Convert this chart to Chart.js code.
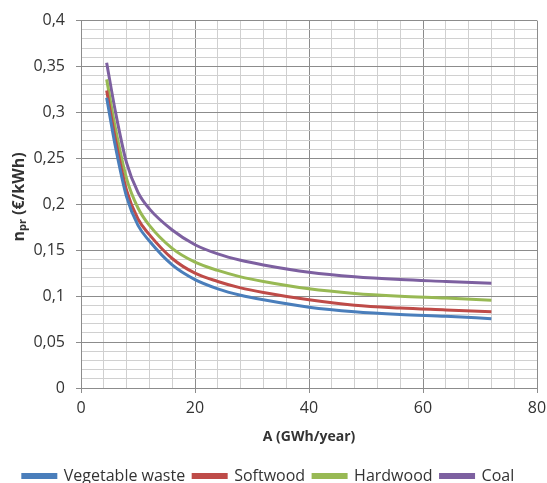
<!DOCTYPE html>
<html>
<head>
<meta charset="utf-8">
<script src="https://cdn.jsdelivr.net/npm/chart.js@4.4.0/dist/chart.umd.min.js"></script>
<style>
  html, body { margin: 0; padding: 0; background: #fff; }
  #wrap { width: 547px; height: 483px; position: relative; }
</style>
</head>
<body>
<div id="wrap"><canvas id="chart"></canvas></div>
<script>
// --- DATA ---
const xValues = [4.5, 6, 8, 10, 12, 16, 20, 24, 28, 32, 40, 48, 56, 64, 72];
const vegetableWaste = [0.316, 0.264, 0.208, 0.177, 0.160, 0.134, 0.118, 0.108, 0.101, 0.096, 0.088, 0.083, 0.080, 0.078, 0.0755];
const softwood      = [0.324, 0.272, 0.215, 0.184, 0.167, 0.141, 0.125, 0.116, 0.109, 0.104, 0.096, 0.090, 0.087, 0.085, 0.083];
const hardwood      = [0.336, 0.284, 0.228, 0.196, 0.177, 0.152, 0.137, 0.128, 0.121, 0.116, 0.108, 0.103, 0.100, 0.098, 0.0955];
const coal          = [0.354, 0.302, 0.245, 0.213, 0.195, 0.172, 0.156, 0.146, 0.139, 0.134, 0.126, 0.121, 0.118, 0.116, 0.114];
const seriesLabels = ['Vegetable waste', 'Softwood', 'Hardwood', 'Coal'];
const seriesColors = ['#4A7EBB', '#BE4B48', '#98B954', '#7D60A0'];

const toPoints = (ys) => ys.map((y, i) => ({ x: xValues[i], y: y }));
const isMajor = (v, step) => Math.abs(Math.round(v / step) * step - v) < 1e-6;

const MAJOR = '#8C8C8C';
const MINOR = '#D0D0D0';
const TEXT = '#333333';

// y axis title with subscript (n_pr), drawn rotated
const yTitlePlugin = {
    id: 'yTitle',
    afterDraw(chart) {
        const ctx = chart.ctx;
        const parts = [
            { t: 'n', f: 'bold 16px "Open Sans"', dy: 0 },
            { t: 'pr', f: 'bold 11px "Open Sans"', dy: 4 },
            { t: ' (€/kWh)', f: 'bold 16px "Open Sans"', dy: 0 }
        ];
        ctx.save();
        let total = 0;
        parts.forEach(p => { ctx.font = p.f; p.w = ctx.measureText(p.t).width; total += p.w; });
        ctx.translate(19, 197);
        ctx.rotate(-Math.PI / 2);
        ctx.fillStyle = TEXT;
        ctx.textBaseline = 'middle';
        let x = -total / 2;
        parts.forEach(p => {
            ctx.font = p.f;
            ctx.fillText(p.t, x, p.dy);
            x += p.w;
        });
        ctx.restore();
    }
};

const datasets = [vegetableWaste, softwood, hardwood, coal].map((ys, i) => ({
    label: seriesLabels[i],
    data: toPoints(ys),
    borderColor: seriesColors[i],
    backgroundColor: seriesColors[i],
    borderWidth: 3,
    pointRadius: 0,
    cubicInterpolationMode: 'monotone',
    fill: false
}));

new Chart(document.getElementById('chart'), {
    type: 'line',
    data: { datasets: datasets },
    plugins: [yTitlePlugin],
    options: {
        responsive: true,
        maintainAspectRatio: false,
        animation: false,
        layout: { padding: { left: 0, right: 10, top: 17, bottom: -11 } },
        plugins: {
            tooltip: { enabled: false },
            legend: {
                position: 'bottom',
                labels: {
                    color: TEXT,
                    font: { family: 'Open Sans', size: 16 },
                    boxWidth: 33,
                    boxHeight: 3,
                    padding: 8
                }
            }
        },
        scales: {
            x: {
                type: 'linear',
                min: 0,
                max: 80,
                afterFit: (scale) => { scale.paddingRight = 0; scale.paddingLeft = 0; },
                ticks: {
                    stepSize: 4,
                    maxTicksLimit: 100,
                    autoSkip: false,
                    maxRotation: 0,
                    color: TEXT,
                    font: { family: 'Open Sans', size: 16 },
                    padding: 6,
                    callback: (v) => isMajor(v, 20) ? String(v) : ''
                },
                grid: {
                    color: (c) => isMajor(c.tick.value, 20) ? MAJOR : MINOR,
                    tickColor: (c) => isMajor(c.tick.value, 20) ? MAJOR : 'rgba(0,0,0,0)',
                    tickLength: 5
                },
                border: { color: MAJOR },
                title: {
                    display: true,
                    text: 'A (GWh/year)',
                    color: TEXT,
                    font: { family: 'Open Sans', size: 14, weight: 'bold' },
                    padding: { top: 4, bottom: 15 }
                }
            },
            y: {
                min: 0,
                max: 0.4,
                afterFit: (scale) => { scale.width = 81; },
                ticks: {
                    stepSize: 0.01,
                    maxTicksLimit: 100,
                    autoSkip: false,
                    color: TEXT,
                    font: { family: 'Open Sans', size: 16 },
                    padding: 11,
                    callback: (v) => isMajor(v, 0.05) ? String(Math.round(v * 100) / 100).replace('.', ',') : ''
                },
                grid: {
                    color: (c) => isMajor(c.tick.value, 0.05) ? MAJOR : MINOR,
                    tickColor: (c) => isMajor(c.tick.value, 0.05) ? MAJOR : 'rgba(0,0,0,0)',
                    tickLength: 5
                },
                border: { color: MAJOR }
            }
        }
    }
});
</script>
</body>
</html>
